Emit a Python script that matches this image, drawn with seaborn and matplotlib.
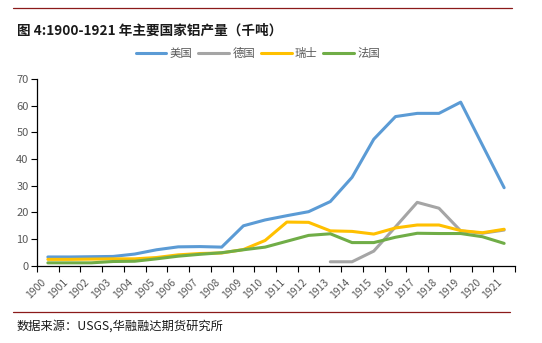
import numpy as np
import pandas as pd
import matplotlib
matplotlib.use("Agg")
import matplotlib.pyplot as plt
import matplotlib.transforms as mtransforms
from matplotlib.lines import Line2D
import seaborn as sns

# 1900-1921 aluminium output by country (thousand tonnes)
years = list(range(1900, 1922))
usa = [3.2, 3.2, 3.3, 3.4, 4.3, 5.9, 7.0, 7.1, 6.9, 14.9, 17.1, 18.7, 20.2,
       24.0, 33.1, 47.4, 55.9, 57.1, 57.1, 61.3, 45.2, 29.2]
germany = [np.nan] * 13 + [1.4, 1.4, 5.4, 14.5, 23.7, 21.5, 13.0, 12.1, 13.3]
switzerland = [2.3, 2.3, 2.4, 2.5, 2.5, 3.0, 4.0, 4.5, 4.7, 6.0, 9.4, 16.3,
               16.2, 13.0, 12.8, 11.8, 14.1, 15.2, 15.2, 13.1, 12.3, 13.6]
france = [1.0, 1.0, 1.0, 1.5, 1.6, 2.5, 3.5, 4.2, 4.8, 5.9, 6.9, 9.1, 11.3,
          11.9, 8.6, 8.6, 10.6, 12.1, 12.0, 12.0, 10.8, 8.3]

series_names = ["美国", "德国", "瑞士", "法国"]
colors = ["#5B9BD5", "#A5A5A5", "#FFC000", "#70AD47"]
y_ticks = list(range(0, 80, 10))

sns.set_theme(style="white")
plt.rcParams["font.family"] = ["Noto Sans CJK SC", "DejaVu Sans"]

df = pd.DataFrame({"年份": years, "美国": usa, "德国": germany,
                   "瑞士": switzerland, "法国": france})
long = df.melt(id_vars="年份", var_name="国家", value_name="产量").dropna()

fig = plt.figure(figsize=(5.42, 3.43), dpi=100)
ax = fig.add_axes([37 / 542, 1 - 265.5 / 343, (515 - 37) / 542, (265.5 - 79) / 343])

sns.lineplot(data=long, x="年份", y="产量", hue="国家", hue_order=series_names,
             palette=colors, linewidth=2.2, legend=False, ax=ax, sort=True)

ax.set_xlim(1899.5, 1921.5)
ax.set_ylim(0, 70)
ax.set_xlabel("")
ax.set_ylabel("")

ax.set_yticks(y_ticks)
ax.set_yticklabels([str(v) for v in y_ticks], fontsize=8, color="#595959")
ax.set_xticks(years)
ax.set_xticklabels([])
ax.set_xticks(np.arange(1899.5, 1922, 1.0), minor=True)
ax.tick_params(axis="x", which="major", length=0)
ax.tick_params(axis="x", which="minor", length=4, width=0.8, color="black",
               direction="out", bottom=True)
ax.tick_params(axis="y", which="major", length=4, width=0.8, color="black",
               direction="out", left=True, pad=2)

# slanted year labels ending just under each category centre
label_tf = ax.get_xaxis_transform() + mtransforms.ScaledTranslation(
    -7 / 100, -11.5 / 100, fig.dpi_scale_trans)
for y in years:
    ax.text(y, 0, str(y), transform=label_tf, fontsize=7.5, color="#595959",
            rotation=45, ha="right", va="top", rotation_mode="anchor")

for side in ["top", "right"]:
    ax.spines[side].set_visible(False)
for side in ["left", "bottom"]:
    ax.spines[side].set_color("black")
    ax.spines[side].set_linewidth(0.9)
ax.grid(False)

# legend
handles = [Line2D([0], [0], color=c, lw=2.2) for c in colors]
fig.legend(handles, series_names, loc="center", bbox_to_anchor=(258 / 542, 1 - 53 / 343),
           ncol=4, frameon=False, fontsize=8.2, handlelength=2.7, handletextpad=0.3,
           columnspacing=0.5, labelcolor="#595959")

# header / footer rules and text
fig.add_artist(Line2D([13 / 542, 512 / 542], [1 - 7.5 / 343, 1 - 7.5 / 343],
                      color="#8B1A1A", lw=0.9, transform=fig.transFigure))
fig.add_artist(Line2D([13 / 542, 510 / 542], [1 - 312 / 343, 1 - 312 / 343],
                      color="#8B1A1A", lw=0.9, transform=fig.transFigure))
fig.text(17 / 542, 1 - 31 / 343, "图 4:1900-1921 年主要国家铝产量（千吨）",
         fontsize=9.8, fontweight="bold", color="#1a1a1a", ha="left", va="center")
fig.text(17 / 542, 1 - 326 / 343, "数据来源：USGS,华融融达期货研究所",
         fontsize=8.8, color="#1a1a1a", ha="left", va="center")

fig.savefig("out.png", dpi=100, facecolor="white")
